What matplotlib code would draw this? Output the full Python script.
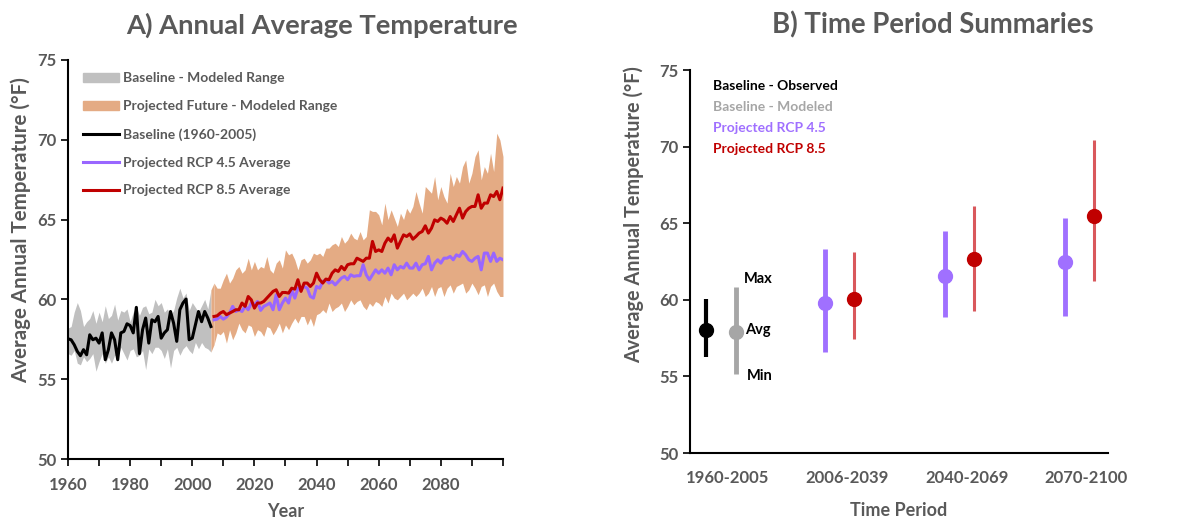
import matplotlib.pyplot as plt
from matplotlib.patches import Patch
from matplotlib.lines import Line2D
import numpy as np

plt.rcParams['font.family'] = ['Lato', 'DejaVu Sans']
plt.rcParams['font.weight'] = 'bold'

GRAY_TXT = '#595959'
BAND_GRAY = '#C0C0C0'
BAND_ORANGE = '#E4AB84'
PURPLE = '#9966FF'
RED = '#C00000'

# ---- panel A data ----
obs_start, fut_start = 1960, 2007

baseline_obs = [57.53, 57.47, 57.16, 56.74, 56.47, 56.85, 56.53, 57.78, 57.47, 57.57,
                57.26, 57.9, 56.22, 56.85, 57.9, 57.47, 56.22, 57.9, 57.99, 58.47,
                58.36, 57.9, 59.5, 56.6, 58.1, 58.83, 57.26, 58.72, 58.6, 58.93,
                57.57, 57.9, 58.1, 59.24, 58.5, 57.37, 59.35, 59.77, 60.02, 57.47,
                57.57, 58.4, 59.24, 58.6, 59.24, 58.83, 58.3]

baseline_hi = [58.2, 58.3, 59.2, 59.8, 59.3, 58.3, 58.6, 58.8, 59.3, 58.5,
               59.2, 58.6, 59.6, 58.8, 59.0, 59.7, 58.7, 59.3, 59.2, 59.4,
               58.6, 59.2, 59.5, 59.0, 59.5, 59.6, 59.1, 59.2, 60.0, 59.6,
               59.8, 59.2, 59.4, 59.0, 59.3, 60.1, 60.7, 60.1, 60.4, 59.3,
               59.8, 59.5, 59.2, 59.6, 60.0, 59.4, 60.6]

baseline_lo = [56.6, 56.5, 56.8, 56.0, 55.9, 56.4, 56.1, 56.3, 56.6, 55.5,
               56.1, 56.6, 56.0, 56.4, 56.0, 56.5, 56.4, 57.0, 56.6, 56.2,
               56.8, 56.9, 56.4, 56.5, 56.8, 55.6, 56.9, 56.6, 57.0, 57.0,
               56.8, 56.3, 56.9, 55.7, 56.8, 57.0, 56.5, 56.9, 57.1, 56.8,
               56.6, 57.3, 56.9, 57.3, 57.0, 56.9, 56.7]

rcp85_avg = [58.93, 58.97, 59.14, 59.24, 59.04, 59.14, 59.24, 59.35, 59.35, 59.77,
             59.56, 60.18, 59.97, 59.45, 59.77, 59.77, 59.87, 60.08, 60.29, 60.5,
             60.6, 60.18, 60.43, 60.43, 60.39, 60.7, 60.64, 61.23, 60.5, 61.02,
             61.02, 60.81, 61.02, 61.64, 61.23, 61.02, 61.27, 61.23, 61.64, 61.85,
             61.75, 62.06, 61.85, 62.17, 62.23, 62.23, 62.58, 62.48, 62.38, 62.58,
             62.58, 63.63, 63.0, 63.1, 63.0, 63.52, 63.84, 63.63, 64.04, 63.21,
             63.63, 64.04, 63.94, 64.1, 63.77, 63.94, 64.15, 64.25, 64.61, 64.15,
             64.46, 64.98, 64.88, 65.09, 64.98, 64.77, 65.19, 64.88, 65.3, 65.71,
             65.09, 65.5, 65.71, 65.82, 65.82, 66.55, 65.71, 66.03, 66.03, 66.55,
             66.44, 66.76, 66.24, 66.97]

rcp45_avg = [58.72, 58.76, 58.93, 58.76, 58.89, 59.14, 59.56, 59.24, 59.35, 59.24,
             59.56, 59.35, 59.77, 59.66, 59.87, 59.31, 59.56, 59.66, 59.77, 59.35,
             60.29, 59.35, 59.77, 60.08, 59.77, 60.6, 60.08, 60.7, 60.6, 60.81,
             60.7, 60.18, 60.08, 60.81, 60.7, 61.12, 61.23, 61.02, 61.12, 60.91,
             61.12, 61.33, 61.44, 61.23, 61.54, 61.44, 61.48, 61.48, 62.17, 61.54,
             61.23, 61.54, 61.85, 61.64, 61.85, 61.64, 61.96, 61.54, 62.17, 61.85,
             62.06, 61.96, 62.27, 61.96, 61.96, 62.27, 61.85, 62.17, 62.23, 62.69,
             61.85, 62.27, 62.48, 62.27, 62.58, 62.58, 62.69, 62.48, 62.79, 62.69,
             63.0, 62.79, 62.48, 62.38, 62.58, 62.69, 61.85, 62.9, 62.9, 62.38,
             62.9, 62.38, 62.58, 62.48]

future_hi = [61.02, 60.7, 60.7, 61.23, 61.64, 61.02, 61.33, 61.85, 62.06, 61.64,
             61.85, 62.58, 61.85, 62.38, 61.85, 62.06, 61.96, 62.69, 61.85, 61.64,
             62.27, 62.48, 61.96, 63.1, 62.79, 62.9, 62.48, 61.85, 62.48, 62.58,
             62.27, 62.48, 62.9, 62.79, 62.9, 62.69, 63.21, 63.21, 63.42, 63.52,
             63.31, 63.94, 63.52, 63.73, 64.15, 63.84, 63.73, 64.25, 63.73, 63.94,
             65.61, 65.51, 65.51, 65.3, 64.67, 66.03, 65.0, 65.61, 65.09, 64.57,
             65.4, 65.0, 65.71, 65.4, 65.82, 66.76, 66.03, 65.4, 67.07, 66.86,
             66.65, 67.7, 66.24, 67.07, 66.44, 66.03, 67.9, 67.07, 67.7, 67.28,
             68.32, 68.74, 67.28, 67.9, 68.95, 69.37, 67.49, 68.32, 67.9, 69.16,
             68.01, 70.41, 69.99, 68.95]

future_lo = [57.16, 57.9, 57.78, 57.99, 57.26, 58.1, 57.47, 57.9, 58.51, 58.1,
             57.9, 58.4, 58.3, 57.68, 58.1, 57.99, 57.68, 58.3, 58.2, 57.78,
             58.1, 58.51, 57.9, 58.4, 58.1, 58.51, 58.83, 58.51, 58.93, 58.93,
             58.4, 58.83, 58.3, 59.04, 59.14, 59.35, 59.14, 59.77, 59.24, 59.45,
             59.56, 59.77, 59.24, 59.56, 59.97, 59.66, 59.87, 59.97, 59.56, 59.35,
             59.77, 59.56, 59.87, 59.77, 59.56, 60.18, 59.77, 60.39, 60.08, 59.97,
             60.18, 60.39, 59.97, 60.18, 60.39, 60.18, 60.39, 60.7, 60.18, 60.39,
             60.81, 60.18, 60.7, 60.81, 60.18, 60.7, 60.91, 60.39, 60.81, 60.91,
             61.02, 60.39, 60.6, 61.02, 60.7, 60.29, 60.81, 60.91, 60.18, 60.81,
             61.02, 60.5, 60.18, 60.18]

# ---- panel B data ----
periods = ['1960-2005', '2006-2039', '2040-2069', '2070-2100']
obs_sum = (58.03, 56.29, 60.05)          # avg, min, max
mod_sum = (57.92, 55.13, 60.86)
rcp45_sum_avg = [59.77, 61.55, 62.45]
rcp45_sum_min = [56.61, 58.90, 58.96]
rcp45_sum_max = [63.32, 64.51, 65.36]
rcp85_sum_avg = [60.07, 62.66, 65.47]
rcp85_sum_min = [57.44, 59.27, 61.25]
rcp85_sum_max = [63.10, 66.14, 70.43]

yrs_obs = obs_start + np.arange(len(baseline_obs))
yrs_fut = fut_start + np.arange(len(rcp85_avg))

fig = plt.figure(figsize=(11.95, 5.21), dpi=100)
W, H = 1195., 521.


def fit_text(artist, target, vertical=False):
    # scale font so the rendered text spans `target` pixels
    r = fig.canvas.get_renderer()
    bb = artist.get_window_extent(r)
    size = bb.height if vertical else bb.width
    artist.set_fontsize(artist.get_fontsize() * target / size)


# ================= Panel A =================
ax = fig.add_axes([0.0569, 0.119, 0.364, 0.766])
ax.fill_between(yrs_obs, baseline_lo, baseline_hi, color=BAND_GRAY, lw=0)
ax.fill_between(yrs_fut, future_lo, future_hi, color=BAND_ORANGE, lw=0)
# join the orange band to the last baseline year
ax.fill_between([yrs_obs[-1], yrs_fut[0]], [baseline_lo[-1], future_lo[0]],
                [baseline_hi[-1], future_hi[0]], color=BAND_ORANGE, lw=0)
ax.plot(yrs_fut, rcp45_avg, color=PURPLE, lw=2.2)
ax.plot(yrs_fut, rcp85_avg, color=RED, lw=2.2)
ax.plot(yrs_obs, baseline_obs, color='black', lw=2.2)

ax.set_xlim(1960, 2100)
ax.set_ylim(50, 75)
ax.set_xticks(np.arange(1960, 2081, 20))
ax.set_xticks(np.arange(1960, 2101, 10), minor=True)
ax.set_yticks(np.arange(50, 76, 5))
ax.tick_params(axis='both', which='both', direction='out', length=5, width=1.2,
               colors='black', labelcolor=GRAY_TXT, labelsize=12)
ax.tick_params(axis='x', pad=8)
for side in ['top', 'right']:
    ax.spines[side].set_visible(False)
for side in ['left', 'bottom']:
    ax.spines[side].set_linewidth(1.5)
ax.set_xlabel('Year', color=GRAY_TXT, fontsize=13, fontweight='bold', labelpad=7)
ylab_a = ax.set_ylabel('Average Annual Temperature (°F)', color=GRAY_TXT,
                       fontsize=13, fontweight='bold')

handles = [Patch(color=BAND_GRAY), Patch(color=BAND_ORANGE),
           Line2D([], [], color='black', lw=2.2),
           Line2D([], [], color=PURPLE, lw=2.2),
           Line2D([], [], color=RED, lw=2.2)]
labels = ['Baseline - Modeled Range', 'Projected Future - Modeled Range',
          'Baseline (1960-2005)', 'Projected RCP 4.5 Average',
          'Projected RCP 8.5 Average']
leg = ax.legend(handles, labels, loc='upper left', bbox_to_anchor=(0.006, 1.0),
                frameon=False, fontsize=10, labelspacing=1.14,
                handlelength=2.6, handletextpad=0.26)
for t in leg.get_texts():
    t.set_color(GRAY_TXT)

title_a = fig.text(321.5 / W, 1 - 25 / H, 'A) Annual Average Temperature',
                   color=GRAY_TXT, fontsize=17, fontweight='bold',
                   ha='center', va='center')

# ================= Panel B =================
bx = fig.add_axes([0.5774, 0.1305, 0.3498, 0.735])
pos = np.arange(1, len(periods) + 1)
off_l, off_r = -0.18, 0.06

bx.errorbar(pos[0] + off_l, obs_sum[0],
            yerr=[[obs_sum[0] - obs_sum[1]], [obs_sum[2] - obs_sum[0]]],
            fmt='o', color='black', ms=10, elinewidth=3, capsize=0)
bx.errorbar(pos[0] + 0.07, mod_sum[0],
            yerr=[[mod_sum[0] - mod_sum[1]], [mod_sum[2] - mod_sum[0]]],
            fmt='o', color='#A6A6A6', ms=10, elinewidth=3.5, capsize=0)

a45 = np.array(rcp45_sum_avg)
a85 = np.array(rcp85_sum_avg)
bx.errorbar(pos[1:] + off_l, a45,
            yerr=[a45 - np.array(rcp45_sum_min), np.array(rcp45_sum_max) - a45],
            fmt='o', color='#A070FF', ms=10, elinewidth=3.5, capsize=0)
bx.errorbar(pos[1:] + off_r, a85,
            yerr=[a85 - np.array(rcp85_sum_min), np.array(rcp85_sum_max) - a85],
            fmt='none', ecolor='#D9585C', elinewidth=2.2, capsize=0)
bx.plot(pos[1:] + off_r, a85, 'o', color=RED, ms=10)

bx.text(pos[0] + 0.26, mod_sum[2] + 0.5, 'Max', ha='center', va='center',
        fontsize=10.5, color='black')
bx.text(pos[0] + 0.26, mod_sum[0] + 0.1, 'Avg', ha='center', va='center',
        fontsize=10.5, color='black')
bx.text(pos[0] + 0.27, mod_sum[1] - 0.1, 'Min', ha='center', va='center',
        fontsize=10.5, color='black')

key = [('Baseline - Observed', 'black'), ('Baseline - Modeled', '#A6A6A6'),
       ('Projected RCP 4.5', '#A070FF'), ('Projected RCP 8.5', RED)]
for i, (txt, col) in enumerate(key):
    bx.text(0.055, 0.958 - i * 0.055, txt, transform=bx.transAxes, color=col,
            fontsize=10, fontweight='bold', va='center', ha='left')

bx.set_xlim(0.69, 4.18)
bx.set_ylim(50, 75)
bx.set_xticks(pos)
bx.set_xticklabels(periods)
bx.set_yticks(np.arange(50, 76, 5))
bx.tick_params(axis='y', direction='out', length=5, width=1.2,
               labelcolor=GRAY_TXT, labelsize=12)
bx.tick_params(axis='x', length=0, labelcolor=GRAY_TXT, labelsize=12, pad=12)
for side in ['top', 'right']:
    bx.spines[side].set_visible(False)
for side in ['left', 'bottom']:
    bx.spines[side].set_linewidth(1.5)
bx.set_xlabel('Time Period', color=GRAY_TXT, fontsize=13, fontweight='bold',
              labelpad=12)
ylab_b = bx.set_ylabel('Average Annual Temperature (°F)', color=GRAY_TXT,
                       fontsize=13, fontweight='bold')

title_b = fig.text(933 / W, 1 - 25 / H, 'B) Time Period Summaries',
                   color=GRAY_TXT, fontsize=17, fontweight='bold',
                   ha='center', va='center')

fit_text(title_a, 393)
fit_text(title_b, 323)
fit_text(ylab_a, 305, vertical=True)
fit_text(ylab_b, 295, vertical=True)

# y labels: set the centre of the rotated text (right edge near x=30 / x=642 px)
for lab, cx, cy in [(ylab_a, 21 / W, 1 - 230 / H), (ylab_b, 634 / W, 1 - 215 / H)]:
    lab.set_transform(fig.transFigure)
    lab.set_position((cx, cy))
    lab.set_va('center')
    lab.set_ha('center')
    lab.set_rotation_mode('anchor')
ax.yaxis.set_label_coords(21 / W, 1 - 230 / H, transform=fig.transFigure)
bx.yaxis.set_label_coords(634 / W, 1 - 215 / H, transform=fig.transFigure)

plt.savefig('out.png', dpi=100)
